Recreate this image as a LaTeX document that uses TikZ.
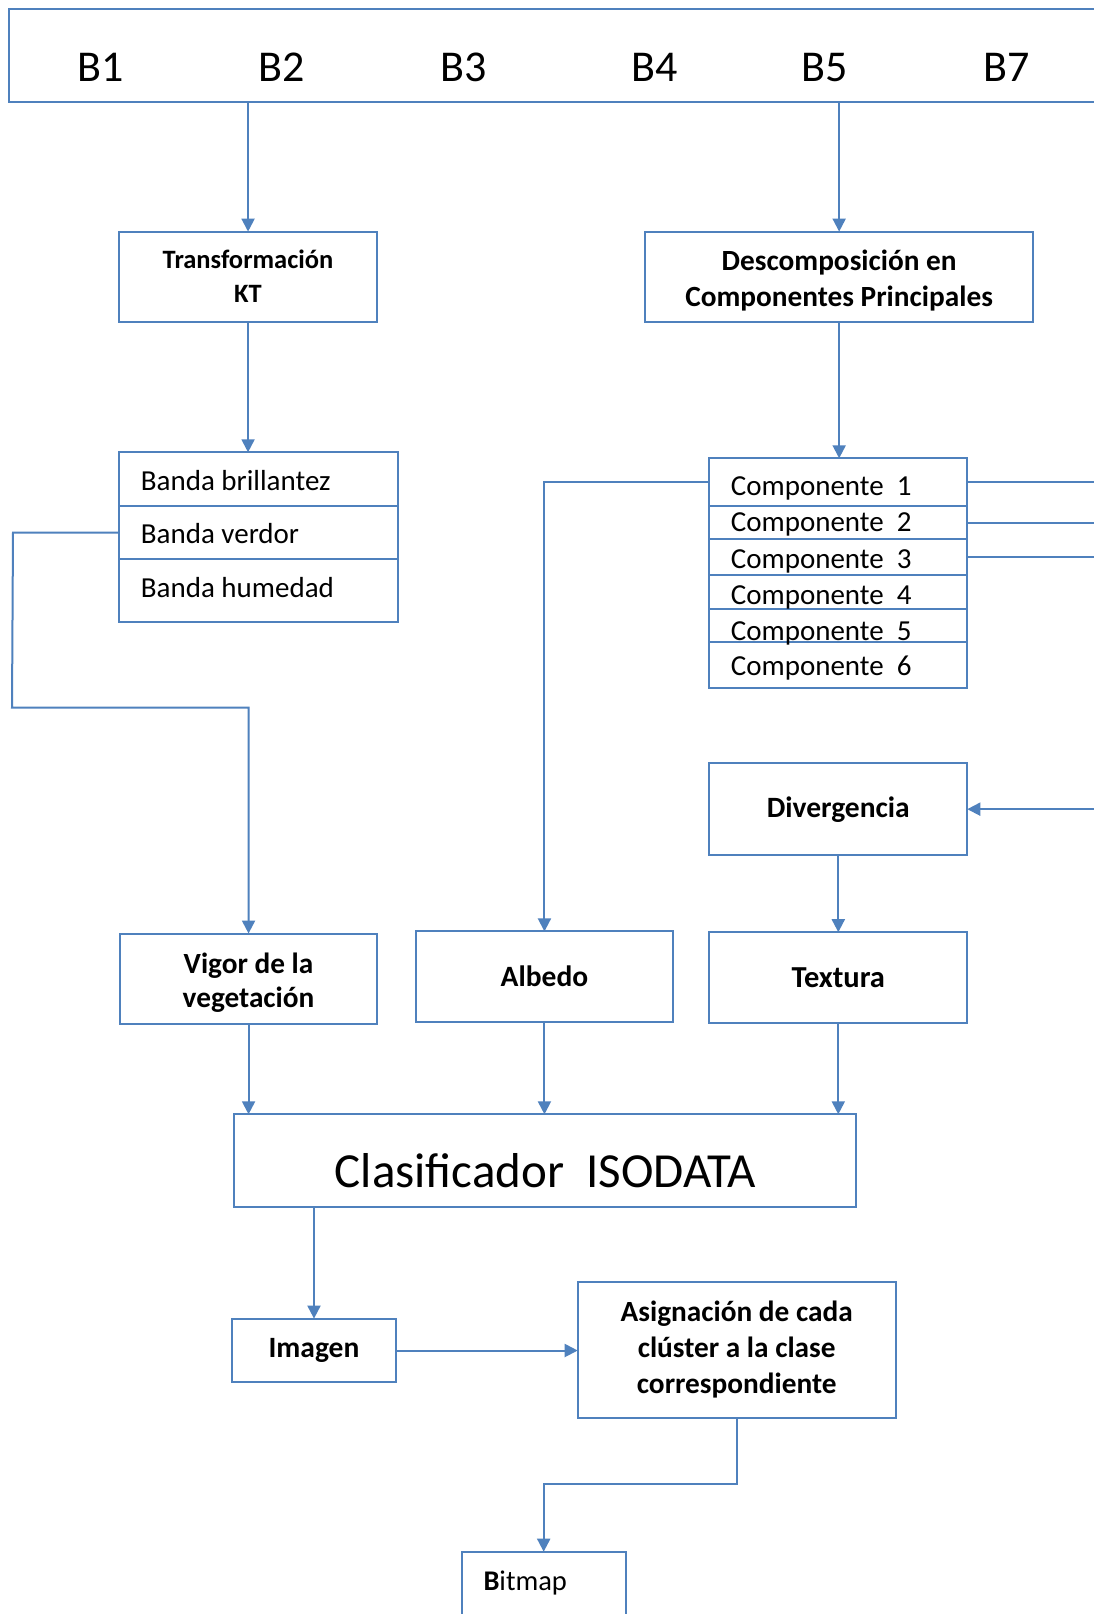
\documentclass[tikz,border=0pt]{standalone}
\usepackage{fontspec}
\setmainfont{Carlito}
\usetikzlibrary{arrows.meta}
\definecolor{lnblue}{RGB}{79,129,189}
\begin{document}
\begin{tikzpicture}[x=1pt,y=-1pt,
  bx/.style={draw=lnblue, line width=2pt, inner sep=0pt, outer sep=0pt, align=center, font=\fontsize{29.5}{35}\selectfont\bfseries},
  rowbox/.style={draw=lnblue, line width=2pt, inner sep=0pt, outer sep=0pt},
  btxt/.style={inner sep=0pt, align=center, font=\fontsize{29.5}{35}\selectfont\bfseries},
  arr/.style={draw=lnblue, line width=2pt, -{Triangle[width=13pt,length=13pt]}},
  ln/.style={draw=lnblue, line width=2pt},
  blab/.style={anchor=base, inner sep=0pt, font=\fontsize{44}{50}\selectfont},
  rowtxt/.style={anchor=base west, inner sep=0pt, font=\fontsize{29}{34}\selectfont},
]
\path[use as bounding box] (0,0) rectangle (1094,1614);
\fill[white] (0,0) rectangle (1094,1614);
\clip (0,0) rectangle (1094,1614);

% top band box
\node[rowbox, minimum width=1100.8pt, minimum height=92.4pt] (bands) at (559.6,55.5) {};
\node[blab] (b1) at (100.5,81) {B1};
\node[blab] (b2) at (282,81) {B2};
\node[blab] (b3) at (463.7,81) {B3};
\node[blab] (b4) at (655,81) {B4};
\node[blab] (b5) at (825,81) {B5};
\node[blab] (b7) at (1006.6,81) {B7};

% boxes
\node[bx, minimum width=257.3pt, minimum height=90.1pt, font=\fontsize{26.5}{34}\selectfont\bfseries] (kt) at (248.05,276.65) {Transformación\\KT};
\node[rowbox, minimum width=387.7pt, minimum height=90.1pt] (desc) at (839.15,276.65) {};
\node[btxt, font=\fontsize{29.3}{36}\selectfont\bfseries] (desctxt) at ([yshift=-3.5pt]desc.center) {Descomposición en\\Componentes Principales};

% banda rows
\node[rowbox, minimum width=279.3pt, minimum height=54pt] (bb1) at (258.65,479.3) {};
\node[rowbox, minimum width=279.3pt, minimum height=52.4pt] (bb2) at (258.65,532.5) {};
\node[rowbox, minimum width=279.3pt, minimum height=63pt] (bb3) at (258.65,590.2) {};
\node[rowtxt] (tb1) at (140.7,490.7) {Banda brillantez};
\node[rowtxt] (tb2) at (140.7,543.3) {Banda verdor};
\node[rowtxt] (tb3) at (140.7,597.3) {Banda humedad};

% componentes rows
\node[rowbox, minimum width=258pt, minimum height=47.7pt] (c1) at (838.3,482.15) {};
\node[rowbox, minimum width=258pt, minimum height=33.3pt] (c2) at (838.3,522.65) {};
\node[rowbox, minimum width=258pt, minimum height=35.4pt] (c3) at (838.3,557) {};
\node[rowbox, minimum width=258pt, minimum height=34.3pt] (c4) at (838.3,591.85) {};
\node[rowbox, minimum width=258pt, minimum height=33.3pt] (c5) at (838.3,625.65) {};
\node[rowbox, minimum width=258pt, minimum height=46pt] (c6) at (838.3,665.3) {};
\node[rowtxt] (tc1) at (730.7,495.7) {Componente~~1};
\node[rowtxt] (tc2) at (730.7,531.7) {Componente~~2};
\node[rowtxt] (tc3) at (730.7,568.3) {Componente~~3};
\node[rowtxt] (tc4) at (730.7,604) {Componente~~4};
\node[rowtxt] (tc5) at (730.7,640) {Componente~~5};
\node[rowtxt] (tc6) at (730.7,675) {Componente~~6};

\node[bx, minimum width=258pt, minimum height=91.7pt] (div) at (838.3,809.15) {Divergencia};
\node[rowbox, minimum width=256.3pt, minimum height=90.5pt] (vigor) at (248.55,978.75) {};
\node[btxt, font=\fontsize{29.3}{34}\selectfont\bfseries] (vigortxt) at ([yshift=-3.5pt]vigor.center) {Vigor de la\\vegetación};
\node[bx, minimum width=257.3pt, minimum height=90.6pt] (albedo) at (544.45,976.7) {Albedo};
\node[bx, minimum width=258pt, minimum height=90.6pt, font=\fontsize{30.5}{35}\selectfont\bfseries] (textura) at (838.3,977.5) {Textura};
\node[rowbox, minimum width=622.7pt, minimum height=92.4pt] (clasif) at (544.95,1160.5) {};
\node[anchor=base, inner sep=0pt, font=\fontsize{49}{55}\selectfont] (tcl) at (545.5,1187) {Clasificador~~ISODATA};
\node[bx, minimum width=164.7pt, minimum height=63.8pt] (imagen) at (314,1350.5) {Imagen};
\node[bx, minimum width=318pt, minimum height=135.4pt, font=\fontsize{29.3}{36}\selectfont\bfseries] (asig) at (736.7,1350) {Asignación de cada\\clúster a la clase\\correspondiente};
\node[rowbox, minimum width=164pt, minimum height=88.3pt] (bitmap) at (543.7,1595.85) {};
\node[rowtxt, font=\fontsize{28.5}{34}\selectfont] (tbm) at (483.3,1590) {\textbf{B}itmap};

% helper coordinates
\coordinate (redge) at (1110,0);
\coordinate (lx) at (13,0);
\coordinate (lx2) at (12,707.7);
\coordinate (asd) at (0,1483.7);

% connectors
\draw[arr] (bands.south -| kt.north) -- (kt.north);
\draw[arr] (bands.south -| desc.north) -- (desc.north);
\draw[arr] (kt.south) -- (kt.south |- bb1.north);
\draw[arr] (desc.south) -- (desc.south |- c1.north);
\draw[ln] (c1.east) -- (c1.east -| redge);
\draw[ln] (c2.east) -- (c2.east -| redge);
\draw[ln] (c3.east) -- (c3.east -| redge);
\draw[arr] (div.east -| redge) -- (div.east);
\draw[arr] (c1.west) -| (albedo.north);
\draw[arr] (bb2.west) -- (bb2.west -| lx) -- (lx2) -- (lx2 -| vigor.north) -- (vigor.north);
\draw[arr] (div.south) -- (textura.north);
\draw[arr] (vigor.south) -- (vigor.south |- clasif.north);
\draw[arr] (albedo.south) -- (albedo.south |- clasif.north);
\draw[arr] (textura.south) -- (textura.south |- clasif.north);
\draw[arr] (clasif.south -| imagen.north) -- (imagen.north);
\draw[arr] (imagen.east) -- (imagen.east -| asig.west);
\draw[arr] (asig.south) -- (asig.south |- asd) -| (bitmap.north);
\end{tikzpicture}
\end{document}
